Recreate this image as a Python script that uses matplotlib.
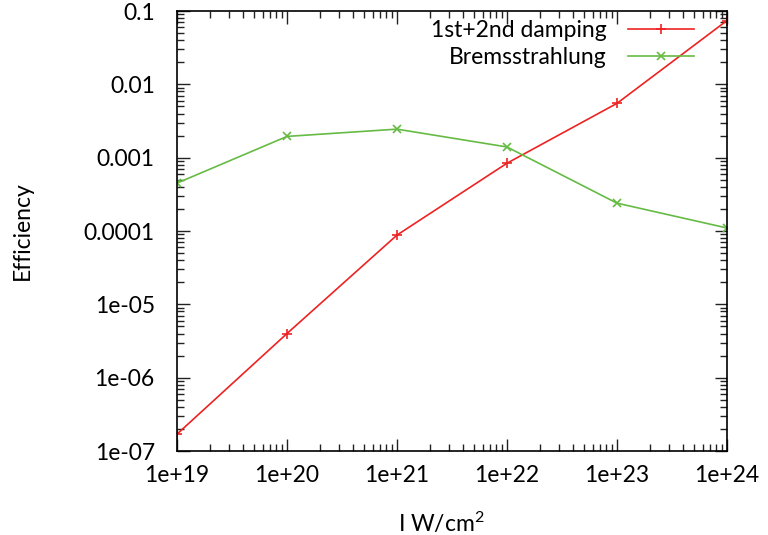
import numpy as np
import matplotlib
matplotlib.use("Agg")
import matplotlib.pyplot as plt
from matplotlib.ticker import LogLocator, FuncFormatter, NullFormatter

plt.rcParams['font.family'] = ['Lato', 'DejaVu Sans']
plt.rcParams['mathtext.fontset'] = 'custom'
plt.rcParams['mathtext.rm'] = 'Lato'
plt.rcParams['mathtext.it'] = 'Lato'

# intensity (W/cm^2) and efficiencies
intensity = [1e19, 1e20, 1e21, 1e22, 1e23, 1e24]
damping = [1.7e-7, 4.0e-6, 8.8e-5, 8.4e-4, 5.5e-3, 0.074]
brems = [4.5e-4, 1.95e-3, 2.45e-3, 1.4e-3, 2.4e-4, 1.1e-4]

fig = plt.figure(figsize=(7.68, 5.35), dpi=100)
ax = fig.add_axes([0.2305, 0.157, 0.716, 0.8224])

ax.plot(intensity, damping, color='#ee2222', marker='+', ms=7, mew=1.2,
        lw=1.2, label='1st+2nd damping')
ax.plot(intensity, brems, color='#66bb44', marker='x', ms=6, mew=1.2,
        lw=1.2, label='Bremsstrahlung')

ax.set_xscale('log')
ax.set_yscale('log')
ax.set_xlim(1e19, 1e24)
ax.set_ylim(1e-7, 0.1)

def yfmt(v, pos):
    e = int(round(np.log10(v)))
    if e >= 0:
        return '%d' % round(v)
    if e >= -4:
        return ('%.' + str(-e) + 'f') % v
    return '1e-%02d' % (-e)

def xfmt(v, pos):
    return '1e+%d' % int(round(np.log10(v)))

ax.xaxis.set_major_formatter(FuncFormatter(xfmt))
ax.yaxis.set_major_formatter(FuncFormatter(yfmt))
ax.xaxis.set_minor_locator(LogLocator(base=10, subs=np.arange(2, 10), numticks=20))
ax.yaxis.set_minor_locator(LogLocator(base=10, subs=np.arange(2, 10), numticks=20))
ax.xaxis.set_minor_formatter(NullFormatter())
ax.yaxis.set_minor_formatter(NullFormatter())

fs = 16.5
ax.tick_params(which='both', direction='in', top=True, right=True,
               labelsize=fs, width=1, color='#222222')
ax.tick_params(which='major', length=9)
ax.tick_params(axis='y', which='major', pad=16)
ax.tick_params(axis='x', which='major', pad=10)
ax.tick_params(which='minor', length=5)
for s in ax.spines.values():
    s.set_linewidth(1.2)

ax.set_xlabel('I W/cm$^{2}$', fontsize=fs)
ax.xaxis.set_label_coords(0.48, -0.135)
ax.set_ylabel('Efficiency', fontsize=fs)
ax.yaxis.set_label_coords(-0.262, 0.5)

ax.legend(loc='upper right', markerfirst=False, frameon=False, fontsize=fs,
          handlelength=2.9, borderaxespad=0.0, labelspacing=0.25,
          handletextpad=0.9, bbox_to_anchor=(0.957, 1.0))

fig.savefig('out.png', dpi=100)
